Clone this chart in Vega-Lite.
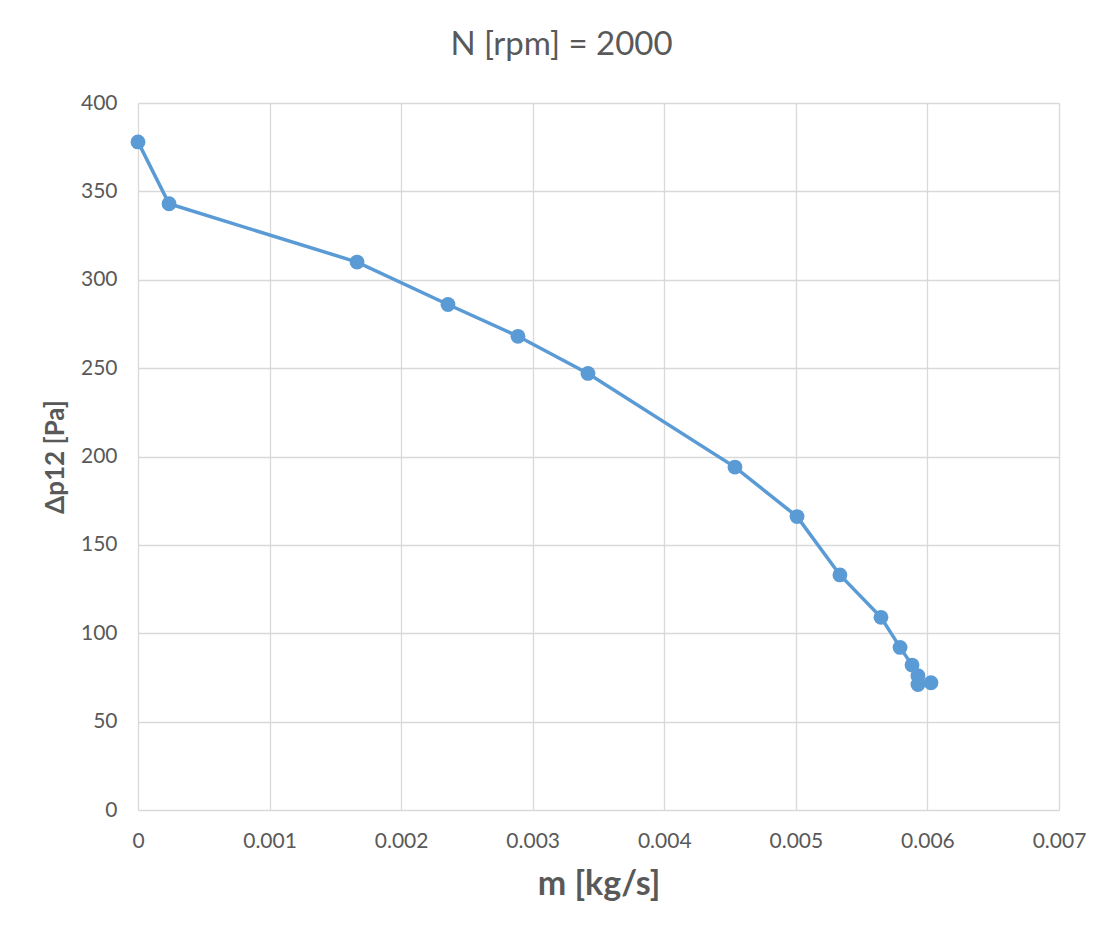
{
  "$schema": "https://vega.github.io/schema/vega-lite/v6.json",
  "width": 921,
  "height": 707,
  "autosize": {"type": "none"},
  "padding": {"left": 138, "top": 103, "right": 57, "bottom": 132},
  "background": "white",
  "title": {
    "text": "N [rpm] = 2000",
    "font": "Lato",
    "fontSize": 33,
    "fontWeight": "normal",
    "color": "#595959",
    "anchor": "middle",
    "frame": "group",
    "dx": -37,
    "offset": 30
  },
  "data": {
    "values": [
      {"m": 0.0, "dp": 378},
      {"m": 0.000236, "dp": 343},
      {"m": 0.001665, "dp": 310},
      {"m": 0.002356, "dp": 286},
      {"m": 0.002888, "dp": 268},
      {"m": 0.00342, "dp": 247},
      {"m": 0.004537, "dp": 194},
      {"m": 0.005009, "dp": 166},
      {"m": 0.005335, "dp": 133},
      {"m": 0.005647, "dp": 109},
      {"m": 0.005792, "dp": 92},
      {"m": 0.005883, "dp": 82},
      {"m": 0.005928, "dp": 76},
      {"m": 0.005928, "dp": 71},
      {"m": 0.006027, "dp": 72}
    ]
  },
  "mark": {
    "type": "line",
    "color": "#5b9bd5",
    "strokeWidth": 3.5,
    "point": {"filled": true, "size": 220, "color": "#5b9bd5", "opacity": 1}
  },
  "encoding": {
    "x": {
      "field": "m",
      "type": "quantitative",
      "scale": {"domain": [0, 0.007], "nice": false, "zero": false},
      "axis": {
        "title": "m [kg/s]",
        "values": [0, 0.001, 0.002, 0.003, 0.004, 0.005, 0.006, 0.007],
        "format": "~g",
        "labelFlush": false,
        "labelPadding": 20,
        "titlePadding": 16,
        "titleFontSize": 34
      }
    },
    "y": {
      "field": "dp",
      "type": "quantitative",
      "scale": {"domain": [0, 400], "nice": false},
      "axis": {
        "title": "Δp12 [Pa]",
        "values": [0, 50, 100, 150, 200, 250, 300, 350, 400],
        "labelFlush": false,
        "labelPadding": 21,
        "titlePadding": 12,
        "titleFontSize": 26
      }
    },
    "order": {"value": 0}
  },
  "config": {
    "view": {"stroke": null},
    "axis": {
      "grid": true,
      "gridColor": "#d9d9d9",
      "gridWidth": 1.3,
      "domain": false,
      "ticks": false,
      "labelFont": "Lato",
      "labelFontSize": 21,
      "labelColor": "#595959",
      "titleFont": "Lato",
      "titleFontWeight": "bold",
      "titleColor": "#595959"
    }
  }
}
